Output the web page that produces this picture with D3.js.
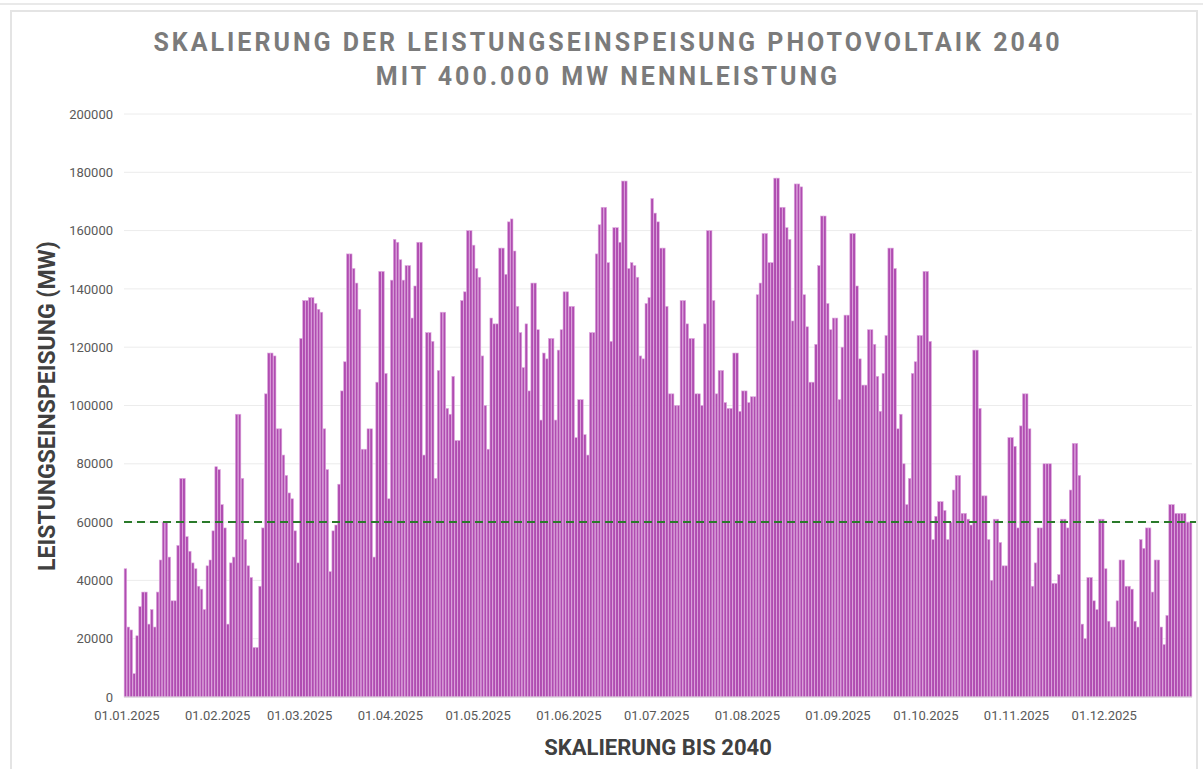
<!DOCTYPE html>
<html>
<head>
<meta charset="utf-8">
<script src="https://cdn.jsdelivr.net/npm/d3@7"></script>
<style>
  html, body { margin: 0; padding: 0; background: #ffffff; }
  svg { display: block; }
</style>
</head>
<body>
<svg id="chart" width="1203" height="769"></svg>
<script>
// ---- DATA (MW per day, 2025, scaled to 2040) ----
const jan = [44000, 24000, 23000, 8000, 21000, 31000, 36000, 36000, 25000, 30000, 24000, 36000, 47000, 60000, 60000, 48000, 33000, 33000, 52000, 75000, 75000, 55000, 50000, 46000, 44000, 38000, 37000, 30000, 45000, 47000, 57000];
const feb = [79000, 78000, 66000, 58000, 25000, 46000, 48000, 97000, 97000, 75000, 54000, 45000, 41000, 17000, 17000, 38000, 58000, 104000, 118000, 118000, 117000, 92000, 92000, 83000, 76000, 70000, 68000, 57000];
const mar = [46000, 123000, 136000, 136000, 137000, 137000, 135000, 133000, 132000, 92000, 78000, 43000, 57000, 59000, 73000, 105000, 115000, 152000, 152000, 147000, 142000, 133000, 85000, 85000, 92000, 92000, 48000, 108000, 146000, 146000, 111000];
const apr = [68000, 143000, 157000, 156000, 150000, 143000, 148000, 148000, 130000, 141000, 156000, 156000, 83000, 125000, 125000, 122000, 75000, 112000, 132000, 132000, 99000, 97000, 110000, 88000, 88000, 136000, 139000, 160000, 160000, 155000];
const may = [147000, 144000, 117000, 100000, 85000, 130000, 128000, 128000, 154000, 154000, 145000, 163000, 164000, 153000, 134000, 125000, 113000, 128000, 105000, 142000, 142000, 126000, 95000, 118000, 116000, 123000, 123000, 95000, 119000, 126000, 139000];
const jun = [139000, 134000, 134000, 89000, 102000, 102000, 90000, 83000, 125000, 125000, 152000, 162000, 168000, 168000, 149000, 122000, 161000, 161000, 156000, 177000, 177000, 147000, 149000, 148000, 144000, 117000, 116000, 135000, 137000, 171000];
const jul = [166000, 163000, 154000, 154000, 134000, 104000, 104000, 100000, 100000, 136000, 136000, 128000, 123000, 123000, 104000, 104000, 100000, 128000, 160000, 160000, 136000, 104000, 112000, 112000, 101000, 99000, 99000, 118000, 118000, 98000, 105000];
const aug = [105000, 101000, 103000, 103000, 138000, 142000, 159000, 159000, 149000, 149000, 178000, 178000, 168000, 168000, 161000, 157000, 129000, 176000, 176000, 175000, 138000, 127000, 108000, 108000, 121000, 148000, 165000, 165000, 135000, 126000, 130000];
const sep = [130000, 102000, 120000, 131000, 131000, 159000, 159000, 141000, 116000, 107000, 107000, 126000, 126000, 121000, 110000, 98000, 111000, 124000, 154000, 154000, 147000, 92000, 97000, 80000, 66000, 75000, 111000, 115000, 124000, 124000];
const oct = [146000, 146000, 122000, 54000, 62000, 67000, 67000, 64000, 54000, 60000, 71000, 76000, 76000, 63000, 63000, 61000, 59000, 119000, 119000, 99000, 69000, 69000, 54000, 40000, 61000, 61000, 53000, 45000, 45000, 89000, 89000];
const nov = [86000, 58000, 93000, 104000, 104000, 92000, 38000, 46000, 58000, 58000, 80000, 80000, 80000, 39000, 39000, 42000, 61000, 61000, 58000, 71000, 87000, 87000, 76000, 25000, 20000, 41000, 41000, 33000, 30000, 61000];
const dec = [61000, 44000, 26000, 24000, 24000, 33000, 47000, 47000, 38000, 38000, 37000, 26000, 24000, 54000, 51000, 58000, 58000, 36000, 47000, 47000, 24000, 18000, 28000, 66000, 66000, 63000, 63000, 63000, 63000, 60000, 60000];

const monthLabels = ["01.01.2025", "01.02.2025", "01.03.2025", "01.04.2025", "01.05.2025", "01.06.2025", "01.07.2025", "01.08.2025", "01.09.2025", "01.10.2025", "01.11.2025", "01.12.2025"];
const yTicks = [0, 20000, 40000, 60000, 80000, 100000, 120000, 140000, 160000, 180000, 200000];
const referenceLine = 60000;
const titleLines = ["SKALIERUNG DER LEISTUNGSEINSPEISUNG PHOTOVOLTAIK 2040", "MIT 400.000 MW NENNLEISTUNG"];
const yTitle = "LEISTUNGSEINSPEISUNG (MW)";
const xTitle = "SKALIERUNG BIS 2040";

// ---- BUILD ----
const months = [jan, feb, mar, apr, may, jun, jul, aug, sep, oct, nov, dec];
const values = months.flat();
const monthStart = [];
{ let acc = 0; months.forEach(m => { monthStart.push(acc); acc += m.length; }); }

const svg = d3.select("#chart");
const W = 1203, H = 769;
const plot = { left: 124, right: 1192, top: 114, bottom: 697 };
const FONT = "Roboto, 'Open Sans', sans-serif";

// frame
svg.append("line").attr("x1", 0).attr("x2", W).attr("y1", 4).attr("y2", 4)
  .attr("stroke", "#e2e2e2").attr("stroke-width", 1.5);
svg.append("rect").attr("x", 11).attr("y", 11).attr("width", 1186).attr("height", 770)
  .attr("fill", "#ffffff").attr("stroke", "#e4e4e4").attr("stroke-width", 2);

const x = d3.scaleBand().domain(d3.range(values.length)).range([plot.left, plot.right]).paddingInner(0.12).paddingOuter(0.05);
const y = d3.scaleLinear().domain([0, 200000]).range([plot.bottom, plot.top]);

// gridlines
svg.append("g").selectAll("line").data(yTicks).join("line")
  .attr("x1", plot.left).attr("x2", plot.right)
  .attr("y1", d => y(d)).attr("y2", d => y(d))
  .attr("stroke", "#ececec").attr("stroke-width", 1);

// y axis labels
const yAxis = d3.axisLeft(y).tickValues(yTicks).tickSize(0).tickPadding(11).tickFormat(d3.format("d"));
svg.append("g").attr("transform", `translate(${plot.left},0)`).call(yAxis)
  .call(g => g.select(".domain").remove())
  .call(g => g.selectAll("text").attr("fill", "#595959").attr("font-family", FONT).attr("font-size", 13));

// bars
svg.append("g").selectAll("rect").data(values).join("rect")
  .attr("x", (d, i) => x(i))
  .attr("width", x.bandwidth())
  .attr("y", d => y(d))
  .attr("height", d => y(0) - y(d))
  .attr("fill", "#b04db1")
  .attr("stroke", "#dfa9df")
  .attr("stroke-width", 0.6);

// baseline
svg.append("line").attr("x1", plot.left).attr("x2", plot.right)
  .attr("y1", y(0)).attr("y2", y(0)).attr("stroke", "#d9d9d9").attr("stroke-width", 1);

// x axis labels (first day of each month)
const xAxis = d3.axisBottom(x).tickValues(monthStart).tickSize(0).tickPadding(14)
  .tickFormat((d, i) => monthLabels[i]);
svg.append("g").attr("transform", `translate(1.5,${plot.bottom})`).call(xAxis)
  .call(g => g.select(".domain").remove())
  .call(g => g.selectAll("text").attr("fill", "#595959").attr("font-family", FONT).attr("font-size", 13));

// reference line
svg.append("line").attr("x1", plot.left).attr("x2", 1196)
  .attr("y1", y(referenceLine)).attr("y2", y(referenceLine))
  .attr("stroke", "#2a7a2a").attr("stroke-width", 2).attr("stroke-dasharray", "8,5");

// title
svg.append("g").selectAll("text").data(titleLines).join("text")
  .attr("x", 608).attr("y", (d, i) => 51 + i * 34)
  .attr("text-anchor", "middle")
  .attr("font-family", FONT)
  .attr("font-weight", "bold").attr("font-size", 25)
  .attr("letter-spacing", "3px")
  .attr("fill", "#7b7b7b")
  .text(d => d);

// axis titles
svg.append("text")
  .attr("transform", `translate(55,406) rotate(-90)`)
  .attr("text-anchor", "middle")
  .attr("font-family", FONT)
  .attr("font-weight", "bold").attr("font-size", 23)
  .attr("fill", "#404040")
  .text(yTitle);

svg.append("text")
  .attr("x", 658).attr("y", 755)
  .attr("text-anchor", "middle")
  .attr("font-family", FONT)
  .attr("font-weight", "bold").attr("font-size", 22)
  .attr("fill", "#404040")
  .text(xTitle);
</script>
</body>
</html>
